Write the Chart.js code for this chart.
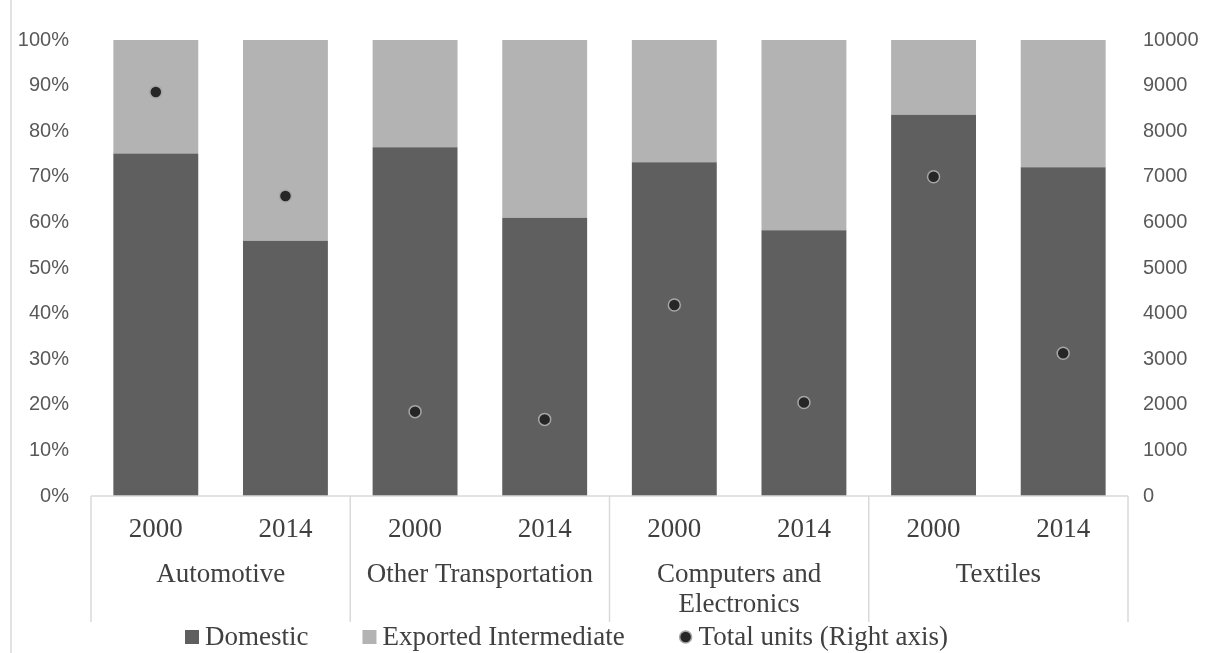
<!DOCTYPE html>
<html>
<head>
<meta charset="utf-8">
<script src="https://cdn.jsdelivr.net/npm/chart.js@4/dist/chart.umd.min.js"></script>
<style>
  html, body { margin: 0; padding: 0; background: #fff; }
  #wrap { width: 1213px; height: 653px; position: relative; }
</style>
</head>
<body>
<div id="wrap"><canvas id="chart"></canvas></div>
<script>
const sectors = ['Automotive', 'Other Transportation', ['Computers and', 'Electronics'], 'Textiles'];
const years = ['2000', '2014'];
const domestic = [75.1, 56.0, 76.5, 61.0, 73.2, 58.3, 83.6, 72.1];
const exported = [24.9, 44.0, 23.5, 39.0, 26.8, 41.7, 16.4, 27.9];
const totalUnits = [8860, 6580, 1850, 1680, 4190, 2050, 7000, 3130];

const labels = [];
sectors.forEach(s => years.forEach(y => labels.push((Array.isArray(s) ? s.join(' ') : s) + ' ' + y)));

const serif = '"Liberation Serif", "Times New Roman", serif';
const sans = '"Liberation Sans", Arial, sans-serif';
const lineCol = '#d9d9d9';

// draws the two level category axis, the chart border and the legend
const decor = {
    id: 'decor',
    afterDraw(chart) {
        const ctx = chart.ctx;
        const area = chart.chartArea;
        const x = chart.scales.x;
        const slot = x.getPixelForValue(1) - x.getPixelForValue(0);
        const bottom = area.bottom;
        const boxH = 126;

        ctx.save();
        ctx.strokeStyle = lineCol;
        ctx.lineWidth = 1.5;
        ctx.beginPath();
        ctx.moveTo(11, 0);
        ctx.lineTo(11, chart.height);
        ctx.moveTo(area.left, bottom);
        ctx.lineTo(area.right, bottom);
        for (let g = 0; g <= sectors.length; g++) {
            const px = x.getPixelForValue(g * years.length) - slot / 2;
            ctx.moveTo(px, bottom);
            ctx.lineTo(px, bottom + boxH);
        }
        ctx.stroke();

        ctx.fillStyle = '#404040';
        ctx.font = '27px ' + serif;
        ctx.textAlign = 'center';
        ctx.textBaseline = 'middle';
        labels.forEach((l, i) => {
            ctx.fillText(years[i % years.length], x.getPixelForValue(i), bottom + 34);
        });
        sectors.forEach((s, g) => {
            const cx = (x.getPixelForValue(g * years.length) + x.getPixelForValue(g * years.length + years.length - 1)) / 2;
            const lines = Array.isArray(s) ? s : [s];
            lines.forEach((ln, k) => ctx.fillText(ln, cx, bottom + 79 + k * 30));
        });

        // legend
        const ds = chart.data.datasets;
        const gap = 6, between = 54, box = 14;
        const widths = ds.map(d => box + gap + ctx.measureText(d.label).width);
        let lx = 185;
        const ly = 637;
        ds.forEach((d, i) => {
            if (d.type === 'line') {
                ctx.beginPath();
                ctx.arc(lx + box / 2, ly, 6, 0, Math.PI * 2);
                ctx.fillStyle = d.pointBackgroundColor;
                ctx.fill();
                ctx.lineWidth = 1.5;
                ctx.strokeStyle = d.pointBorderColor;
                ctx.stroke();
            } else {
                ctx.fillStyle = d.backgroundColor;
                ctx.fillRect(lx, ly - box / 2, box, box);
            }
            ctx.fillStyle = '#404040';
            ctx.textAlign = 'left';
            ctx.fillText(d.label, lx + box + gap, ly + 1);
            lx += widths[i] + between;
        });
        ctx.restore();
    }
};

new Chart(document.getElementById('chart'), {
    data: {
        labels: labels,
        datasets: [
            {
                type: 'bar',
                label: 'Domestic',
                data: domestic,
                backgroundColor: '#5f5f5f',
                yAxisID: 'y',
                order: 1
            },
            {
                type: 'bar',
                label: 'Exported Intermediate',
                data: exported,
                backgroundColor: '#b3b3b3',
                yAxisID: 'y',
                order: 2
            },
            {
                type: 'line',
                label: 'Total units (Right axis)',
                data: totalUnits,
                yAxisID: 'y2',
                showLine: false,
                pointRadius: 6,
                pointHoverRadius: 6,
                pointBackgroundColor: '#262626',
                pointBorderColor: '#a6a6a6',
                pointBorderWidth: 1.5,
                order: 0
            }
        ]
    },
    options: {
        responsive: true,
        maintainAspectRatio: false,
        animation: false,
        datasets: {
            bar: { categoryPercentage: 1, barPercentage: 0.655 }
        },
        layout: { padding: { top: 40, bottom: 31, left: 0, right: 0 } },
        plugins: {
            legend: { display: false },
            tooltip: { enabled: false }
        },
        scales: {
            x: {
                stacked: true,
                grid: { display: false, drawTicks: false },
                border: { display: false },
                ticks: { display: false },
                afterFit: s => { s.height = 126; }
            },
            y: {
                position: 'left',
                stacked: true,
                min: 0,
                max: 100,
                grid: { display: false, drawTicks: false },
                border: { display: false },
                ticks: {
                    stepSize: 10,
                    padding: 22,
                    color: '#595959',
                    font: { family: sans, size: 20 },
                    callback: v => v + '%'
                },
                afterFit: s => { s.width = 91; }
            },
            y2: {
                position: 'right',
                min: 0,
                max: 10000,
                grid: { display: false, drawTicks: false },
                border: { display: false },
                ticks: {
                    stepSize: 1000,
                    padding: 15,
                    color: '#595959',
                    font: { family: sans, size: 20 },
                    callback: v => String(v)
                },
                afterFit: s => { s.width = 85; }
            }
        }
    },
    plugins: [decor]
});
</script>
</body>
</html>
